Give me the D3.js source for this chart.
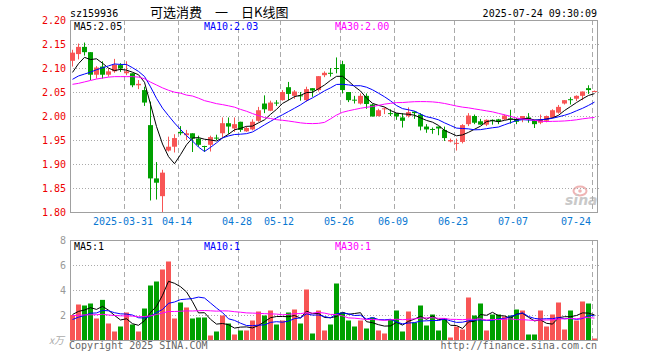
<!DOCTYPE html>
<html>
<head>
<meta charset="utf-8">
<script src="https://cdn.jsdelivr.net/npm/d3@7"></script>
<style>
body { margin: 0; background: #fff; }
svg { display: block; }
</style>
</head>
<body>
<svg id="chart" width="660" height="360"></svg>
<script>
// trading days, 2025
var dates = ["03-18","03-19","03-20","03-21","03-24","03-25","03-26","03-27","03-28","03-31",
	"04-01","04-02","04-03","04-07","04-08","04-09","04-10","04-11","04-14","04-15",
	"04-16","04-17","04-18","04-21","04-22","04-23","04-24","04-25","04-28","04-29",
	"04-30","05-06","05-07","05-08","05-09","05-12","05-13","05-14","05-15","05-16",
	"05-19","05-20","05-21","05-22","05-23","05-26","05-27","05-28","05-29","05-30",
	"06-03","06-04","06-05","06-06","06-09","06-10","06-11","06-12","06-13","06-16",
	"06-17","06-18","06-19","06-20","06-23","06-24","06-25","06-26","06-27","06-30",
	"07-01","07-02","07-03","07-04","07-07","07-08","07-09","07-10","07-11","07-14",
	"07-15","07-16","07-17","07-18","07-21","07-22","07-23","07-24"];

var open = [2.115,2.129,2.144,2.133,2.086,2.103,2.086,2.093,2.106,2.089,
	2.089,2.064,2.054,1.981,1.870,1.833,1.928,1.936,1.967,1.960,
	1.964,1.953,1.9375,1.940,1.955,1.964,1.985,1.974,1.988,1.968,
	1.972,1.990,2.026,2.011,2.028,2.033,2.060,2.042,2.043,2.033,
	2.058,2.054,2.085,2.090,2.100,2.108,2.050,2.034,2.026,2.042,
	2.024,2.000,2.015,2.006,2.006,1.997,2.000,2.009,2.003,1.978,
	1.973,1.978,1.971,1.947,1.943,1.946,1.983,2.000,1.989,1.982,
	1.992,1.993,1.993,1.995,1.993,1.993,1.997,1.991,1.986,1.990,
	1.997,2.007,2.026,2.035,2.036,2.042,2.058,2.051];
var high = [2.138,2.151,2.153,2.133,2.104,2.114,2.099,2.119,2.110,2.114,
	2.089,2.075,2.061,2.030,1.904,1.888,1.957,1.962,1.979,1.971,
	1.964,1.959,1.938,1.959,1.961,1.997,1.997,1.997,1.988,1.978,
	1.993,2.019,2.043,2.032,2.033,2.054,2.071,2.054,2.050,2.061,
	2.058,2.083,2.093,2.100,2.122,2.115,2.050,2.042,2.047,2.047,
	2.025,2.015,2.018,2.014,2.006,2.006,2.018,2.010,2.006,1.983,
	1.976,1.978,1.978,1.953,1.953,1.983,2.006,2.003,1.994,1.993,
	1.993,1.994,2.003,2.013,1.996,2.000,2.006,1.992,2.003,2.001,
	2.014,2.023,2.033,2.039,2.043,2.051,2.064,2.053];
var low = [2.103,2.118,2.126,2.075,2.078,2.078,2.082,2.090,2.092,2.085,
	2.060,2.056,2.021,1.824,1.826,1.800,1.926,1.924,1.960,1.950,
	1.925,1.936,1.925,1.926,1.950,1.956,1.963,1.967,1.967,1.967,
	1.970,1.988,2.006,2.010,2.021,2.032,2.033,2.036,2.032,2.030,
	2.040,2.051,2.081,2.082,2.089,2.047,2.029,2.026,2.024,2.015,
	1.999,1.999,2.004,2.000,1.992,1.976,1.997,1.994,1.970,1.965,
	1.963,1.960,1.948,1.945,1.928,1.943,1.979,1.983,1.982,1.979,
	1.982,1.983,1.992,1.984,1.983,1.987,1.986,1.975,1.983,1.987,
	1.996,2.005,2.024,2.024,2.031,2.033,2.046,2.050];
var close = [2.132,2.144,2.133,2.086,2.101,2.086,2.093,2.107,2.099,2.093,
	2.064,2.067,2.028,1.870,1.861,1.882,1.936,1.954,1.964,1.964,
	1.953,1.940,1.937,1.956,1.954,1.985,1.978,1.983,1.971,1.975,
	1.988,2.012,2.014,2.028,2.027,2.050,2.046,2.051,2.041,2.056,
	2.053,2.083,2.090,2.089,2.098,2.054,2.033,2.033,2.042,2.025,
	1.999,2.012,2.016,2.005,1.999,1.990,2.008,2.006,1.978,1.972,
	1.972,1.974,1.954,1.950,1.944,1.981,2.001,1.986,1.982,1.992,
	1.991,1.989,2.001,1.994,1.988,2.000,1.993,1.983,1.993,2.000,
	2.012,2.019,2.033,2.034,2.042,2.051,2.054,2.052];
// volume, 万
var volume = [2.0,2.84,2.76,2.92,1.72,3.21,1.32,0.68,1.08,2.2,
	1.24,0.68,2.52,4.36,4.68,5.64,6.28,1.72,3.0,2.6,
	1.72,1.8,1.8,0.36,0.68,1.96,1.32,0.44,0.76,0.76,
	1.56,2.28,1.96,2.36,1.24,1.56,2.2,2.44,1.32,4.04,
	0.52,2.36,0.76,1.24,4.52,2.2,1.56,1.08,1.56,0.92,
	1.8,0.76,0.52,1.64,2.36,0.68,2.28,1.4,2.76,1.16,
	2.04,0.76,1.72,0.2,1.08,0.84,3.4,1.96,2.92,0.76,
	2.04,2.04,1.88,1.96,2.44,2.36,0.44,0.44,2.36,1.08,
	2.04,3.0,0.84,2.36,1.56,3.08,2.92,0.12];

// sessions before 03-18 (only feed the moving averages)
var prevClose = [2.084,2.043,1.996,2.011,2.026,2.033,2.077,2.099,2.093,2.064,
	2.097,2.130,2.080,2.041,2.062,2.086,2.074,2.024,2.084,2.012,
	2.074,2.093,2.046,2.051,2.046,2.053,2.067,2.109,2.093];
var prevVolume = [2.4,1.8,2.6,1.5,2.2,3.1,1.7,2.0,2.5,1.6,
	2.3,1.9,2.8,1.4,2.1,2.6,1.8,2.2,1.9,2.0,
	1.0,1.4,1.1,1.5,1.2,1.6,2.2,2.0,2.4];

var priceTicks = [2.20,2.15,2.10,2.05,2.00,1.95,1.90,1.85,1.80];
var volTicks = [8,6,4,2];
var tickDates = ["03-31","04-14","04-28","05-12","05-26","06-09","06-23","07-07","07-24"];
var tickLabels = ["2025-03-31","04-14","04-28","05-12","05-26","06-09","06-23","07-07","07-24"];

var mono = "'DejaVu Sans Mono', monospace";
var red = "#f85555", green = "#00a000";
var maColors = ["#000000", "#0000ff", "#ff00ff"];

var svg = d3.select("#chart");

var x = d3.scaleBand().domain(dates).range([70, 598])
	.paddingInner(1/6).paddingOuter(1/12).align(0);
var y = d3.scaleLinear().domain([1.80, 2.20]).range([212, 20]);
var yv = d3.scaleLinear().domain([0, 8]).range([340, 240]);
var mid = function(i) { return x(dates[i]) + 2.5; };

function movingAvg(prev, cur, n) {
	var all = prev.concat(cur);
	return cur.map(function(d, i) {
		var end = prev.length + i + 1;
		return d3.mean(all.slice(end - n, end));
	});
}

// watermark
var logo = svg.append("g");
logo.append("ellipse").attr("cx", 580).attr("cy", 191).attr("rx", 6.5).attr("ry", 4.5)
	.attr("fill", "none").attr("stroke", "#efb4b4").attr("stroke-width", 2);
logo.append("circle").attr("cx", 580).attr("cy", 191).attr("r", 1.8).attr("fill", "#efb4b4");
logo.append("text").attr("x", 565).attr("y", 205)
	.attr("font-family", "'DejaVu Sans', sans-serif").attr("font-size", 14)
	.attr("font-weight", "bold").attr("font-style", "italic")
	.attr("fill", "#c9c9c9").text("sina");

// grids
var grid = svg.append("g");
grid.selectAll(".hp").data(priceTicks.slice(1, -1)).enter().append("line")
	.attr("x1", 70).attr("x2", 599)
	.attr("y1", function(d) { return y(d) + 0.5; })
	.attr("y2", function(d) { return y(d) + 0.5; })
	.attr("stroke", "#aaa").attr("stroke-dasharray", "1,2");
grid.selectAll(".hv").data(volTicks.slice(1)).enter().append("line")
	.attr("x1", 70).attr("x2", 599)
	.attr("y1", function(d) { return yv(d) + 0.5; })
	.attr("y2", function(d) { return yv(d) + 0.5; })
	.attr("stroke", "#aaa").attr("stroke-dasharray", "1,2");
[[20, 212], [240, 340]].forEach(function(span) {
	grid.selectAll(null).data(tickDates).enter().append("line")
		.attr("x1", function(d) { return x(d) + 0.5; })
		.attr("x2", function(d) { return x(d) + 0.5; })
		.attr("y1", span[0]).attr("y2", span[1])
		.attr("stroke", "#aaa").attr("stroke-dasharray", "5,3");
});

// frames
[[20, 192], [240, 100]].forEach(function(f) {
	svg.append("rect").attr("x", 70.5).attr("y", f[0] + 0.5)
		.attr("width", 527).attr("height", f[1])
		.attr("fill", "none").attr("stroke", "#a0a0a0");
});

// price axis
var yAxis = svg.append("g").attr("transform", "translate(70,0)")
	.call(d3.axisLeft(y).tickValues(priceTicks).tickFormat(d3.format(".2f"))
		.tickSize(0).tickPadding(4));
yAxis.select(".domain").remove();
yAxis.selectAll("text").attr("fill", "#ee0000")
	.attr("font-family", mono).attr("font-size", 10);

// volume axis
var vAxis = svg.append("g").attr("transform", "translate(70,0)")
	.call(d3.axisLeft(yv).tickValues(volTicks).tickFormat(d3.format("d"))
		.tickSize(0).tickPadding(4));
vAxis.select(".domain").remove();
vAxis.selectAll("text").attr("fill", "#999")
	.attr("font-family", mono).attr("font-size", 10);

// date axis
var xAxis = svg.append("g").attr("transform", "translate(0,212)")
	.call(d3.axisBottom(x).tickValues(tickDates)
		.tickFormat(function(d, i) { return tickLabels[i]; })
		.tickSize(0).tickPadding(6));
xAxis.select(".domain").remove();
xAxis.selectAll("text").attr("fill", "#0a78d2")
	.attr("font-family", mono).attr("font-size", 10)
	.attr("x", -3.5)
	.filter(function(d, i) { return i === tickDates.length - 1; })
	.attr("text-anchor", "end").attr("x", -3.5);

// candles
var candle = svg.append("g").selectAll("g").data(dates).enter().append("g")
	.attr("fill", function(d, i) { return close[i] >= open[i] ? red : green; });
candle.append("rect")
	.attr("x", function(d) { return x(d) + 2; })
	.attr("y", function(d, i) { return y(high[i]); })
	.attr("width", 1)
	.attr("height", function(d, i) { return Math.max(1, y(low[i]) - y(high[i])); });
candle.append("rect")
	.attr("x", function(d) { return x(d); })
	.attr("y", function(d, i) { return y(Math.max(open[i], close[i])); })
	.attr("width", x.bandwidth())
	.attr("height", function(d, i) { return Math.max(1, Math.abs(y(open[i]) - y(close[i]))); });

// volume bars
svg.append("g").selectAll("rect").data(volume).enter().append("rect")
	.attr("x", function(d, i) { return x(dates[i]); })
	.attr("y", function(d) { return yv(d); })
	.attr("width", x.bandwidth())
	.attr("height", function(d) { return 340 - yv(d); })
	.attr("fill", function(d, i) { return close[i] >= open[i] ? red : green; });

// moving averages
var priceLine = d3.line().x(function(d, i) { return mid(i); }).y(function(d) { return y(d); });
var volLine = d3.line().x(function(d, i) { return mid(i); }).y(function(d) { return yv(d); });
[5, 10, 30].forEach(function(n, k) {
	svg.append("path").attr("d", priceLine(movingAvg(prevClose, close, n)))
		.attr("fill", "none").attr("stroke", maColors[k]).attr("stroke-width", 1);
	svg.append("path").attr("d", volLine(movingAvg(prevVolume, volume, n)))
		.attr("fill", "none").attr("stroke", maColors[k]).attr("stroke-width", 1);
});

// labels
function label(tx, ty, s, color, anchor) {
	svg.append("text").attr("x", tx).attr("y", ty).attr("fill", color)
		.attr("font-family", mono).attr("font-size", 10)
		.attr("text-anchor", anchor || "start").text(s);
}
label(70, 16.5, "sz159936", "#000");
label(597, 16.5, "2025-07-24 09:30:09", "#000", "end");
label(74, 30, "MA5:2.05", maColors[0]);
label(204, 30, "MA10:2.03", maColors[1]);
label(335, 30, "MA30:2.00", maColors[2]);
label(74, 250, "MA5:1", maColors[0]);
label(204, 250, "MA10:1", maColors[1]);
label(335, 250, "MA30:1", maColors[2]);
label(69, 349, "Copyright 2025 SINA.COM", "#666");
label(597, 349, "http://finance.sina.com.cn", "#666", "end");

svg.append("text").attr("x", 150).attr("y", 16.5)
	.attr("font-family", "'Noto Sans CJK SC', sans-serif").attr("font-size", 13)
	.attr("fill", "#000").text("可选消费\u3000一\u3000日K线图");
svg.append("text").attr("x", 49).attr("y", 344)
	.attr("font-family", "'Noto Sans CJK SC', sans-serif").attr("font-size", 10)
	.attr("font-style", "italic").attr("fill", "#aaa").text("x万");
</script>
</body>
</html>
